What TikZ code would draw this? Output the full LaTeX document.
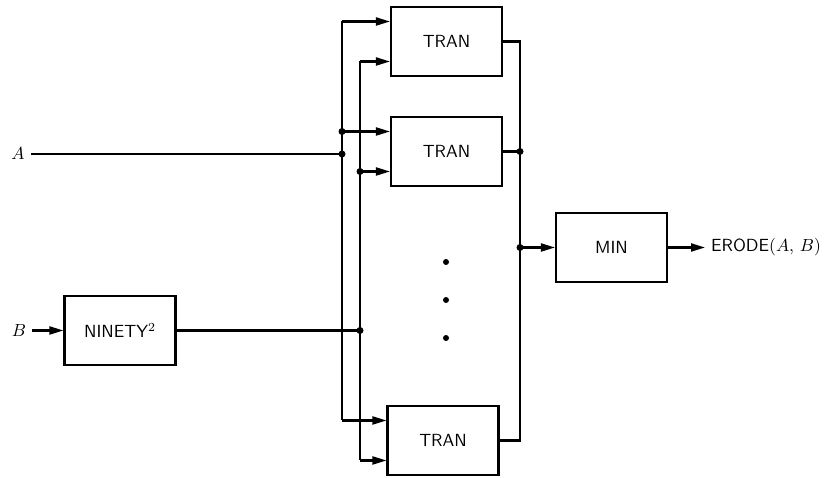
\documentclass[tikz,border=0pt]{standalone}
\usepackage{amsmath}
\usepackage{tikz}
\usetikzlibrary{calc, arrows.meta}

\tikzset{
  block/.style={draw, line width=1.2pt, minimum width=2.22cm, minimum height=1.38cm, font=\sffamily},
  wire/.style={line width=1.2pt},
  feed/.style={wire, -{Triangle[length=2.8mm, width=1.6mm]}},
}

\begin{document}
\begin{tikzpicture}
  \useasboundingbox (0,0) rectangle (16.74,9.56);

  \node[block] (tranA) at (8.93,8.73) {TRAN};
  \node[block] (tranB) at (8.93,6.53) {TRAN};
  \node[block] (tranC) at (8.86,0.75) {TRAN};
  \node[block] (ninety) at (2.4,2.95) {NINETY$^2$};
  \node[block] (minbox) at (12.23,4.61) {MIN};

  \node (labA) at (0.36,6.48) {$A$};
  \node (labB) at (0.38,2.95) {$B$};
  \node[anchor=west] (out) at (14.1,4.61) {\sffamily ERODE$(A,\,B)$};

  \coordinate (jA) at (6.84,6.48);
  \coordinate (jB) at (7.2,2.95);
  \coordinate (jOut) at (10.4,4.61);

  \foreach \t in {tranA,tranB,tranC} {
    \coordinate (\t-hi) at ($(\t.west)+(0,0.4)$);
    \coordinate (\t-lo) at ($(\t.west)+(0,-0.4)$);
  }

  % inputs
  \draw[wire] (labA) -- (jA);
  \draw[feed] (labB) -- (ninety);
  \draw[wire] (ninety) -- (jB);

  % buses to the TRAN boxes
  \draw[wire] (jA |- tranA-hi) -- (jA |- tranC-hi);
  \draw[wire] (jB |- tranA-lo) -- (jB |- tranC-lo);
  \foreach \t in {tranA,tranB,tranC} {
    \draw[feed] (jA |- \t-hi) -- (\t-hi);
    \draw[feed] (jB |- \t-lo) -- (\t-lo);
  }

  % outputs
  \draw[wire] (tranA) -- (tranA -| jOut) -- (tranC -| jOut) -- (tranC);
  \draw[wire] (tranB) -- (tranB -| jOut);
  \draw[feed] (jOut) -- (minbox);
  \draw[feed] (minbox) -- (out);

  % junctions
  \foreach \p in {jA, jB, jOut} \fill (\p) circle (0.07);
  \fill (jA |- tranB-hi) circle (0.07);
  \fill (jB |- tranB-lo) circle (0.07);
  \fill (tranB -| jOut) circle (0.07);

  % vertical ellipsis
  \foreach \y in {4.32,3.56,2.8} \fill (8.92,\y) circle (0.06);
\end{tikzpicture}
\end{document}
